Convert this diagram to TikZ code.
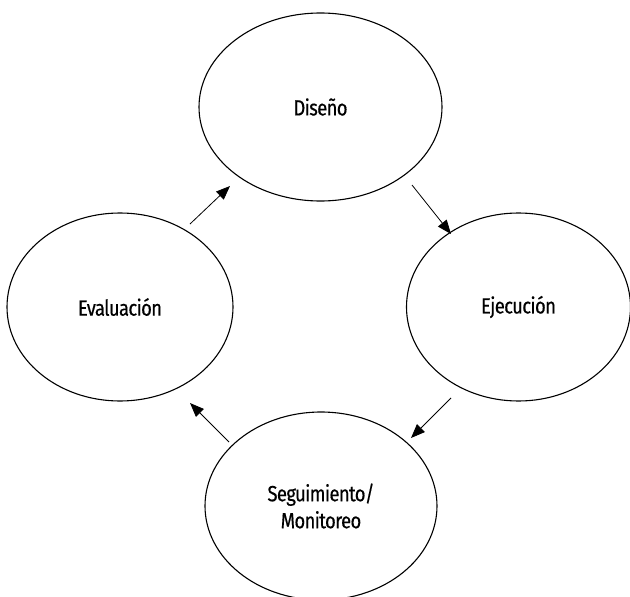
\documentclass[tikz,border=0pt]{standalone}
\usepackage{fontspec}
\setmainfont{Fira Sans}[FakeStretch=0.84, LetterSpace=-3, FakeBold=0.4]
\usetikzlibrary{shapes.geometric,arrows.meta}
\begin{document}
\begin{tikzpicture}[x=1pt,y=-1pt,
  circ/.style={draw, line width=1.1pt, ellipse, inner sep=0pt, align=center,
    font=\fontsize{22}{27}\selectfont},
  arr/.style={draw, line width=0.8pt, -{Triangle[length=14pt,width=11pt]}}]
\useasboundingbox (0,0) rectangle (630,597);
\node[circ, minimum width=243pt, minimum height=188pt] (dis) at (320.5,107) {Diseño};
\node[circ, minimum width=226pt, minimum height=188pt] (eva) at (120,307) {Evaluación};
\node[circ, minimum width=224pt, minimum height=188pt] (eje) at (518.5,307) {Ejecución};
\node[circ, minimum width=232pt, minimum height=188pt] (seg) at (321,506) {Seguimiento/\\Monitoreo};
\draw[arr] ([shift={(70,-83)}]eva.center) -- ([shift={(-90.5,79)}]dis.center);
\draw[arr] ([shift={(91.5,78)}]dis.center) -- ([shift={(-67.5,-73)}]eje.center);
\draw[arr] ([shift={(-67.5,91)}]eje.center) -- ([shift={(90,-68)}]seg.center);
\draw[arr] ([shift={(-92,-64)}]seg.center) -- ([shift={(70,96)}]eva.center);
\end{tikzpicture}
\end{document}
